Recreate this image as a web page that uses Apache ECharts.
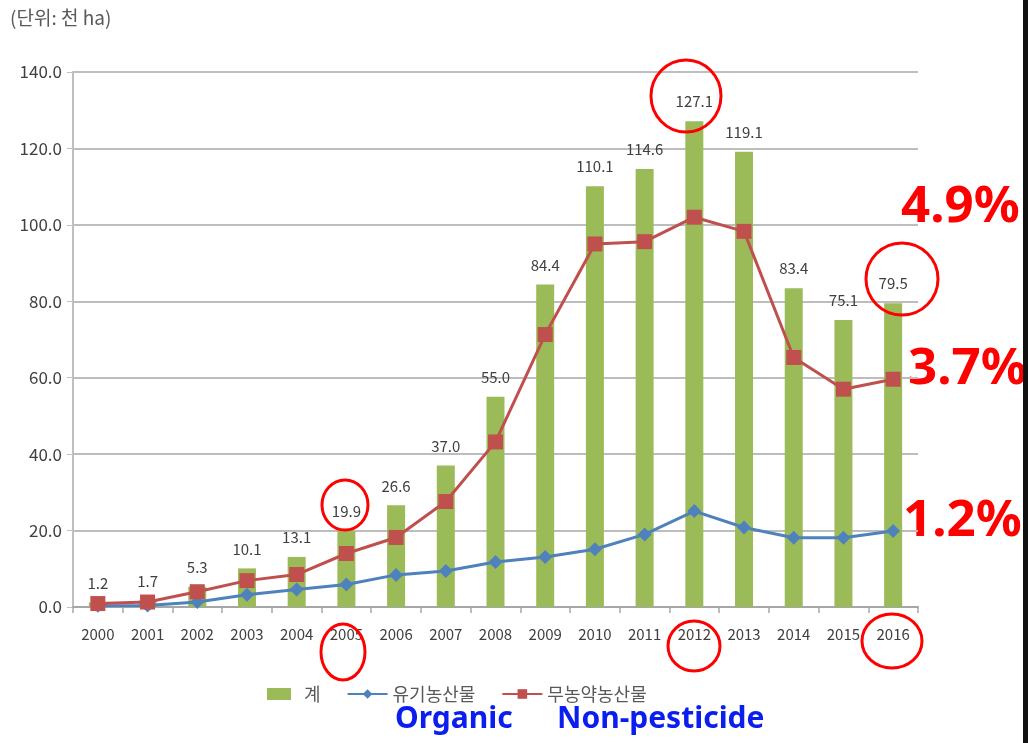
<!DOCTYPE html>
<html><head><meta charset="utf-8">
<script src="https://cdn.jsdelivr.net/npm/echarts@6/dist/echarts.min.js"></script>
<style>html,body{margin:0;padding:0;background:#fff}#c{width:1028px;height:743px}</style>
</head><body><div id="c"></div>
<script>
const years = ['2000','2001','2002','2003','2004','2005','2006','2007','2008','2009','2010','2011','2012','2013','2014','2015','2016'];
const total = [1.2,1.7,5.3,10.1,13.1,19.9,26.6,37.0,55.0,84.4,110.1,114.6,127.1,119.1,83.4,75.1,79.5];
const organic = [0.3,0.4,1.3,3.2,4.6,5.9,8.4,9.4,11.8,13.1,15.1,19.0,25.1,20.8,18.1,18.1,19.9];
const nonPesticide = [0.9,1.3,4.0,6.9,8.5,14.0,18.2,27.6,43.2,71.3,95.0,95.6,102.0,98.3,65.3,57.0,59.6];
const yTicks = [0,20,40,60,80,100,120,140];

const font = '"Noto Sans CJK KR", "Noto Sans", sans-serif';
const chart = echarts.init(document.getElementById('c'));
const red = '#FF0000';
function ell(cx, cy, rx, ry) {
  return { type: 'ellipse', shape: { cx, cy, rx, ry }, style: { fill: 'none', stroke: red, lineWidth: 3 }, z: 100 };
}
chart.setOption({
  animation: false,
  textStyle: { fontFamily: font },
  grid: { left: 73, right: 110, top: 72, bottom: 136 },
  xAxis: {
    type: 'category', data: years, boundaryGap: true,
    axisLine: { lineStyle: { color: '#A6A6A6', width: 2 } },
    axisTick: { show: true, length: 6, lineStyle: { color: '#A6A6A6', width: 1.5 } },
    axisLabel: { color: '#404040', fontSize: 15, margin: 20, fontFamily: font }
  },
  yAxis: {
    type: 'value', min: 0, max: 140, interval: 20,
    axisLine: { show: true, lineStyle: { color: '#BFBFBF', width: 2 } },
    axisTick: { show: true, length: 6, lineStyle: { color: '#BFBFBF' } },
    splitLine: { lineStyle: { color: '#BDBDBD', width: 2 } },
    axisLabel: { color: '#404040', fontSize: 17, margin: 11, fontFamily: font,
      formatter: v => yTicks.includes(v) ? v.toFixed(1) : '' }
  },
  legend: {
    top: 680, left: 262, itemGap: 26, itemWidth: 40, itemHeight: 12,
    textStyle: { color: '#595959', fontSize: 18, fontFamily: font },
    data: [
      { name: '계', icon: 'path://M0,0h24v12h-24z', itemStyle: { color: '#9BBB59' } },
      { name: '유기농산물' },
      { name: '무농약농산물' }
    ]
  },
  series: [
    { name: '계', type: 'bar', data: total, barWidth: 18,
      itemStyle: { color: '#9BBB59' },
      label: { show: true, position: 'top', distance: 12, color: '#404040', fontSize: 15, fontFamily: font,
        formatter: p => p.value.toFixed(1) } },
    { name: '유기농산물', type: 'line', data: organic, symbol: 'diamond', symbolSize: 14,
      lineStyle: { color: '#4F81BD', width: 3 }, itemStyle: { color: '#4F81BD' }, z: 5 },
    { name: '무농약농산물', type: 'line', data: nonPesticide, symbol: 'rect', symbolSize: 15,
      lineStyle: { color: '#C0504D', width: 3 }, itemStyle: { color: '#C0504D' }, z: 6 }
  ],
  graphic: [
    { type: 'text', left: 10, top: 8, style: { text: '(단위: 천 ha)', fill: '#595959', font: '19px ' + font } },
    { type: 'text', left: 901, top: 182, style: { text: '4.9%', fill: red, font: 'bold 51px "Noto Sans", sans-serif' } },
    { type: 'text', left: 908, top: 344, style: { text: '3.7%', fill: red, font: 'bold 51px "Noto Sans", sans-serif' } },
    { type: 'text', left: 903, top: 496, style: { text: '1.2%', fill: red, font: 'bold 51px "Noto Sans", sans-serif' } },
    { type: 'text', left: 395, top: 704, style: { text: 'Organic', fill: '#0A1EF0', font: 'bold 30px "Noto Sans", sans-serif' } },
    { type: 'text', left: 557, top: 704, style: { text: 'Non-pesticide', fill: '#0A1EF0', font: 'bold 30px "Noto Sans", sans-serif' } },
    ell(345, 505, 23, 25), ell(343, 652, 22, 28), ell(686, 96, 35, 36), ell(694, 646, 26, 25),
    ell(902, 279, 36, 36), ell(892, 641, 30, 27),
    { type: 'rect', shape: { x: 1023, y: 0, width: 5, height: 743 }, style: { fill: '#111' }, z: 100 }
  ]
});
</script></body></html>
